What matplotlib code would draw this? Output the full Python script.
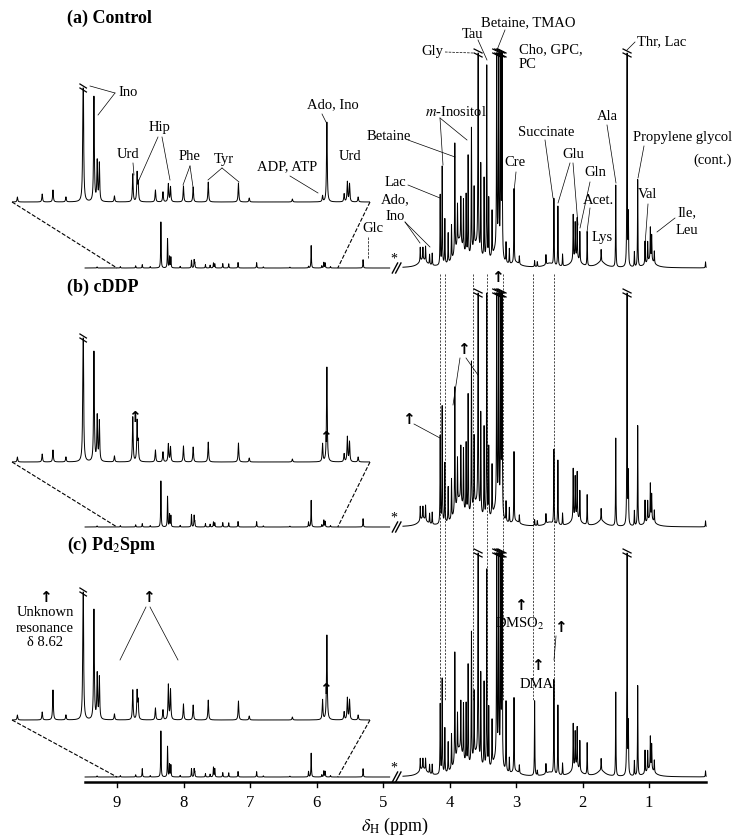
import numpy as np
import matplotlib
matplotlib.use("Agg")
import matplotlib.pyplot as plt

plt.rcParams["font.family"] = "Liberation Serif"
plt.rcParams["mathtext.fontset"] = "stix"

# ---------------- data ----------------
panel_titles = ["(a) Control", "(b) cDDP", "(c) Pd$_2$Spm"]

right_ppm = [4.44, 4.40, 4.36, 4.30, 4.26, 4.14, 4.11, 4.07, 4.02, 3.97, 3.92, 3.88, 3.83,
             3.79, 3.75, 3.72, 3.67, 3.63, 3.57, 3.53, 3.48, 3.44, 3.41, 3.36, 3.29, 3.26,
             3.23, 3.21, 3.15, 3.10, 3.03, 2.95, 2.72, 2.68, 2.55, 2.43, 2.37, 2.30, 2.14,
             2.11, 2.08, 2.04, 1.93, 1.72, 1.50, 1.33, 1.31, 1.22, 1.17, 1.06, 1.02, 0.98,
             0.96, 0.92, 0.15]
right_control = [14, 12, 15, 10, 12, 70, 98, 45, 30, 35, 110, 40, 45, 50, 60, 100, 125, 60,
                 260, 90, 80, 195, 60, 45, 260, 260, 260, 260, 20, 15, 74, 8, 6, 5, 10, 67,
                 60, 12, 45, 35, 40, 30, 34, 12, 82, 260, 50, 15, 87, 23, 20, 32, 25, 12, 6]
right_cddp = [14, 12, 15, 10, 12, 88, 117, 60, 35, 40, 125, 45, 55, 60, 70, 120, 150, 70,
              260, 100, 90, 230, 70, 50, 260, 260, 260, 260, 20, 15, 70, 8, 6, 5, 10, 75,
              65, 12, 50, 40, 45, 30, 30, 12, 88, 260, 50, 15, 100, 23, 20, 35, 25, 12, 6]
right_pd2spm = [12, 10, 12, 9, 10, 70, 95, 45, 30, 35, 110, 40, 50, 55, 60, 100, 130, 65,
                260, 90, 85, 200, 60, 45, 260, 260, 260, 260, 70, 15, 74, 8, 75, 5, 10, 95,
                70, 12, 45, 35, 40, 30, 32, 12, 84, 260, 50, 15, 90, 23, 20, 32, 25, 12, 6]

broad_ppm = [3.85, 3.60, 4.40, 2.10, 2.50, 1.72, 3.00, 0.98, 3.30]
broad_h = [26, 20, 8, 10, 4, 6, 4, 8, 15]

left_ppm = [9.30, 8.95, 8.72, 8.62, 8.50, 8.34, 8.24, 8.21, 8.19, 8.05, 7.88, 7.84, 7.83,
            7.67, 7.60, 7.55, 7.53, 7.41, 7.32, 7.18, 6.90, 6.80, 6.40, 6.12, 6.08, 5.92,
            5.89, 5.87, 5.79, 5.30]
left_control = [4, 5, 8, 12, 5, 165, 105, 40, 38, 6, 28, 28, 18, 12, 10, 18, 15, 16, 15,
                20, 19, 4, 3, 6, 80, 8, 20, 18, 5, 30]
left_cddp = [4, 5, 8, 12, 5, 165, 110, 45, 40, 6, 45, 40, 18, 12, 10, 18, 15, 16, 15,
             20, 19, 4, 3, 18, 95, 8, 25, 20, 5, 30]
left_pd2spm = [4, 5, 8, 30, 5, 165, 110, 45, 42, 6, 30, 28, 18, 12, 10, 35, 30, 16, 15,
               20, 19, 4, 3, 20, 85, 8, 22, 20, 5, 30]

tick_values = [9, 8, 7, 6, 5, 4, 3, 2, 1]
link_ppm = [4.14, 4.07, 3.65, 3.44, 3.20, 2.74, 2.43]

# ---------------- layout (pixels) ----------------
W, H = 743, 836
PX_PER_PPM = 66.5
X9 = 117
main_base = [268, 527, 777]
main_top = [53, 293, 553]
inset_base = [202, 462, 720]
inset_top = [88, 338, 592]
title_y = [18, 287, 545]


def ppm_of_px(px):
    return 9 - (px - X9) / PX_PER_PPM


fig = plt.figure(figsize=(W / 100, H / 100), dpi=100)
ax = fig.add_axes([0, 0, 1, 1])
ax.set_xlim(ppm_of_px(0), ppm_of_px(W))
ax.set_ylim(H, 0)
ax.axis("off")

INS_L, INS_R = 12, 370
ins_ppm0, ins_ppm1 = 9.0, 5.68
axi = fig.add_axes([INS_L / W, 0, (INS_R - INS_L) / W, 1])
axi.set_xlim(ins_ppm0, ins_ppm1)
axi.set_ylim(H, 0)
axi.axis("off")
axi.patch.set_alpha(0)


def lor(x, ppms, hs, w):
    y = np.zeros_like(x)
    for p, h in zip(ppms, hs):
        y += h * w * w / ((x - p) ** 2 + w * w)
    return y


def breakmark(a, x, y, dx):
    for off in (-2, 2):
        a.plot([x - dx, x + dx], [y + off + 2, y + off - 2], color="black", lw=0.9)


xl = np.linspace(9.48, 4.90, 5000)
xr = np.linspace(4.70, 0.14, 6000)
xi = np.linspace(ins_ppm0, ins_ppm1, 5000)
rights = [right_control, right_cddp, right_pd2spm]
lefts = [left_control, left_cddp, left_pd2spm]

for k in range(3):
    b = main_base[k]
    hmax = b - main_top[k]
    # right region
    yr = lor(xr, right_ppm, rights[k], 0.0035) + lor(xr, broad_ppm, broad_h, 0.07)
    yr = np.minimum(yr, hmax)
    ax.plot(xr, b - yr, color="black", lw=0.7)
    for p, h in zip(right_ppm, rights[k]):
        if h > hmax:
            breakmark(ax, p, main_top[k], 0.06)
    # left region (main scale)
    yl = lor(xl, left_ppm, np.array(lefts[k]) * 0.28, 0.004)
    ax.plot(xl, b - yl, color="black", lw=0.7)
    # break marks
    for off in (0, 0.05):
        ax.plot([4.86 - off, 4.78 - off], [b + 5, b - 5], color="black", lw=1.0)
    ax.text(4.83, b - 9, "*", fontsize=10, ha="center", va="center")
    # inset
    ib = inset_base[k]
    ihmax = ib - inset_top[k]
    yi = lor(xi, left_ppm, lefts[k], 0.004)
    yi = np.minimum(yi, ihmax)
    axi.plot(xi, ib - yi, color="black", lw=0.7)
    for p, h in zip(left_ppm, lefts[k]):
        if h > ihmax and ins_ppm1 < p < ins_ppm0:
            breakmark(axi, p, inset_top[k], 0.03)
    # connector dashed lines
    ax.plot([ppm_of_px(INS_L), 9.0], [ib, b], ls="--", color="black", lw=0.8)
    ax.plot([ppm_of_px(INS_R), 5.68], [ib, b], ls="--", color="black", lw=0.8)
    ax.text(ppm_of_px(67), title_y[k], panel_titles[k], fontsize=13, fontweight="bold",
            ha="left", va="center")

# dashed links between panels
for p in link_ppm:
    ax.plot([p, p], [274, 700], ls=(0, (3, 2)), color="black", lw=0.5)

# x axis
ax.plot([9.48, 0.14], [782, 782], color="black", lw=1.8)
for t in tick_values:
    ax.plot([t, t], [782, 787], color="black", lw=1)
    ax.text(t, 803, str(t), fontsize=12, ha="center", va="center")
ax.text(ppm_of_px(395), 826, r"$\delta_\mathrm{H}$ (ppm)", fontsize=13, ha="center", va="center")


# ---------------- annotations ----------------
def lab(txt, px, py, ha="center", style="normal", fs=10.5):
    ax.text(ppm_of_px(px), py, txt, fontsize=fs, ha=ha, va="center", style=style)


def lead(px0, py0, px1, py1, ls="-"):
    ax.plot([ppm_of_px(px0), ppm_of_px(px1)], [py0, py1], color="black", lw=0.5, ls=ls)


lab("Betaine, TMAO", 528, 23)
lab("Tau", 472, 35)
lab("Gly", 432, 52)
lead(445, 52, 473, 53, ls="--")
lab("Cho, GPC,", 519, 50, ha="left")
lab("PC", 519, 64, ha="left")
lead(505, 30, 497, 50)
lead(478, 40, 487, 60)
lab("Thr, Lac", 637, 42, ha="left")
lead(635, 42, 627, 50)
lab("$m$-Inositol", 425, 112, ha="left")
lead(440, 118, 443, 165)
lead(440, 118, 467, 140)
lab("Betaine", 367, 137, ha="left")
lead(408, 140, 455, 157)
lab("Lac", 395, 182)
lead(408, 185, 440, 198)
lab("Ado,", 395, 200)
lab("Ino", 395, 217)
lead(405, 222, 420, 243)
lead(405, 222, 430, 247)
lab("Cre", 515, 163)
lead(516, 172, 514, 192)
lab("Succinate", 546, 133)
lead(545, 140, 553, 198)
lab("Glu", 573, 155)
lead(570, 163, 558, 203)
lead(573, 163, 578, 225)
lab("Gln", 595, 173)
lead(590, 182, 580, 228)
lab("Acet.", 598, 200)
lead(590, 208, 587, 232)
lab("Lys", 602, 237)
lab("Ala", 607, 117)
lead(607, 125, 616, 183)
lab("Propylene glycol", 683, 137)
lab("(cont.)", 732, 160, ha="right")
lead(644, 146, 638, 178)
lab("Val", 648, 195)
lead(648, 204, 645, 245)
lab("Ile,", 687, 213)
lab("Leu", 687, 230)
lead(675, 218, 657, 232)
lab("Glc", 373, 228)
lead(368, 237, 368, 258, ls="--")
# inset labels (a)
lab("Ino", 128, 93)
lead(115, 93, 90, 86)
lead(115, 93, 98, 115)
lab("Hip", 160, 128)
lab("Urd", 128, 155)
lead(133, 163, 134, 175)
lead(158, 137, 138, 182)
lead(162, 137, 170, 180)
lab("Phe", 190, 157)
lead(190, 166, 183, 185)
lead(190, 166, 193, 187)
lab("Tyr", 224, 160)
lead(222, 168, 208, 180)
lead(222, 168, 239, 182)
lab("ADP, ATP", 287, 167)
lead(290, 176, 318, 193)
lab("Ado, Ino", 333, 105)
lead(322, 114, 326, 122)
lab("Urd", 350, 157)

# (b) arrows
def arrow(px, py, fs=11):
    ax.text(ppm_of_px(px), py, "\u2191", fontsize=fs, ha="center", va="center",
            family="DejaVu Sans", fontweight="bold")


arrow(134, 417)
arrow(325, 437)
arrow(408, 420)
lead(414, 424, 440, 438)
arrow(463, 350)
lead(460, 358, 453, 405)
lead(466, 358, 478, 375)
arrow(497, 277)
# (c)
arrow(45, 598)
lab("Unknown", 45, 613)
lab("resonance", 45, 628)
lab("\u03b4 8.62", 45, 643)
arrow(148, 598)
lead(146, 607, 120, 660)
lead(150, 607, 178, 660)
arrow(325, 690)
arrow(520, 605)
lab("DMSO$_2$", 520, 624)
arrow(537, 665)
lab("DMA", 537, 684)
arrow(560, 628)
lead(556, 636, 554, 660)

fig.savefig("out.png", dpi=100)
